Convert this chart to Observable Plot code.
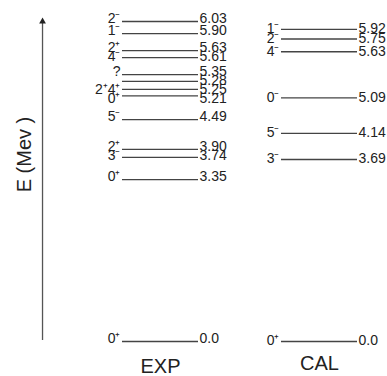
<!DOCTYPE html>
<html><head><meta charset="utf-8">
<script src="https://cdn.jsdelivr.net/npm/d3@7"></script>
<script src="https://cdn.jsdelivr.net/npm/@observablehq/plot@0.6"></script>
<style>html,body{margin:0;padding:0;background:#fff;}</style>
</head><body><div id="chart"></div>
<script>
const columns = ["EXP", "CAL"];

// EXP column: spin/parity labels, energy labels (MeV), drawn level height (schematic)
const expSpin   = ["2⁻","1⁻","2⁺","4⁻","?","","2⁺4⁺","0⁺","5⁻","2⁺","3⁻","0⁺","0⁺"];
const expEnergy = ["6.03","5.90","5.63","5.61","5.35","5.28","5.25","5.21","4.49","3.90","3.74","3.35","0.0"];
const expDrawn  = [6.03, 5.80, 5.48, 5.35, 5.03, 4.90, 4.75, 4.63, 4.18, 3.62, 3.47, 3.05, 0];

// CAL column
const calSpin   = ["1⁻","2⁻","4⁻","0⁻","5⁻","3⁻","0⁺"];
const calEnergy = ["5.92","5.75","5.63","5.09","4.14","3.69","0.0"];
const calDrawn  = [5.88, 5.70, 5.46, 4.59, 3.92, 3.43, 0];

const axisLabel = "E (Mev )";

// scale settings shared by Plot and the label de-cluttering helper
const yDomain = [0, 6.03], yRange = [341, 21];
const yPx = d3.scaleLinear(yDomain, yRange);

const levels = [
  ...expSpin.map((s, i) => ({col: 0, spin: s, energy: expEnergy[i], e: expDrawn[i]})),
  ...calSpin.map((s, i) => ({col: 1, spin: s, energy: calEnergy[i], e: calDrawn[i]}))
];
const exp = levels.filter(d => d.col === 0);
const cal = levels.filter(d => d.col === 1);

// push labels apart (top to bottom) so that they keep a minimum pixel gap
function dodge(rows, gap, offset) {
  let prev = -Infinity;
  for (const r of rows.slice().sort((a, b) => b.e - a.e)) {
    let p = yPx(r.e) + offset;
    if (p < prev + gap) p = prev + gap;
    r.le = yPx.invert(p);
    prev = p;
  }
}
dodge(exp, 9, -3);
dodge(cal, 9, -0.5);

const hw = 0.239;      // half width of a level line, in column units
const axisX = -0.742;  // energy arrow position, in column units
const font = "Liberation Sans, Arial, Helvetica, sans-serif";
const ink = "#222";

const chart = Plot.plot({
  width: 387, height: 376,
  marginTop: 0, marginRight: 0, marginBottom: 0, marginLeft: 0,
  style: {fontFamily: font, background: "#fff", color: ink},
  x: {domain: [0, 1], range: [160, 319], axis: null},
  y: {domain: yDomain, range: yRange, axis: null},
  marks: [
    // energy arrow
    Plot.ruleX([axisX], {x: d => d, y1: () => 0.02, y2: () => 6.0, stroke: "#555", strokeWidth: 1.3}),
    Plot.dot([axisX], {x: d => d, y: () => 6.03, symbol: "triangle", r: 2.5, fill: ink, stroke: "none"}),
    Plot.text([axisLabel], {frameAnchor: "left", textAnchor: "middle", rotate: -90, dx: 24, dy: -34, fontSize: 20, fill: ink}),
    // level lines
    Plot.ruleY(levels, {y: "e", x1: d => d.col - hw, x2: d => d.col + hw, stroke: "#444", strokeWidth: 1.3}),
    // labels
    Plot.text(levels, {x: d => d.col - hw, y: "le", text: "spin", textAnchor: "end", dx: -2, fontSize: 14, fill: ink}),
    Plot.text(levels, {x: d => d.col + hw, y: "le", text: "energy", textAnchor: "start", dx: 1, fontSize: 14, fill: ink}),
    // column titles
    Plot.text([columns[0]], {x: () => 0, y: () => 0, dy: 25, fontSize: 20, fill: ink}),
    Plot.text([columns[1]], {x: () => 1, y: () => 0, dy: 22, fontSize: 20, fill: ink})
  ]
});
document.getElementById("chart").appendChild(chart);
</script>
</body></html>
